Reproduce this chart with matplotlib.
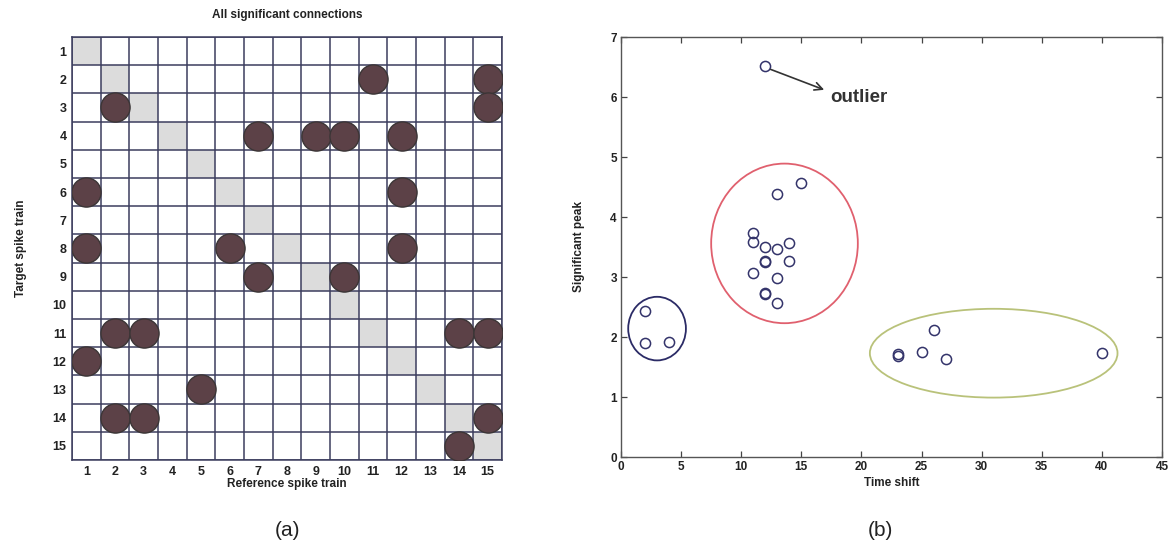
import matplotlib
matplotlib.use("Agg")
import matplotlib.pyplot as plt
from matplotlib.patches import Ellipse
import numpy as np

plt.rcParams['font.family'] = ['Liberation Sans', 'DejaVu Sans']

# ---------------- data: panel (a) ----------------
n_trains = 15
train_labels = [str(i) for i in range(1, 16)]
# significant connections: (target row, reference column)
conn_target = [2, 2, 3, 3, 4, 4, 4, 4, 6, 6, 8, 8, 8, 9, 9,
               11, 11, 11, 11, 12, 13, 14, 14, 14, 15]
conn_reference = [11, 15, 2, 15, 7, 9, 10, 12, 1, 12, 1, 6, 12, 7, 10,
                  2, 3, 14, 15, 1, 5, 2, 3, 15, 14]

# ---------------- data: panel (b) ----------------
time_shift = [12, 15, 13, 11, 11, 12, 13, 14, 12, 12, 14, 11, 13, 12, 12, 13,
              2, 2, 4,
              23, 23, 25, 26, 27, 40]
sig_peak = [6.52, 4.57, 4.38, 3.74, 3.58, 3.50, 3.46, 3.57, 3.27, 3.25, 3.27, 3.06, 2.98, 2.73, 2.71, 2.57,
            2.44, 1.90, 1.92,
            1.71, 1.69, 1.75, 2.12, 1.64, 1.73]
# clusters: centre x, centre y, width, height, colour
cluster_cx = [3.0, 13.6, 31.0]
cluster_cy = [2.14, 3.56, 1.73]
cluster_w = [4.8, 12.2, 20.6]
cluster_h = [1.06, 2.66, 1.48]
cluster_colors = ['#2b2b66', '#e0606e', '#b9c27a']
xticks_b = [0, 5, 10, 15, 20, 25, 30, 35, 40, 45]
yticks_b = [0, 1, 2, 3, 4, 5, 6, 7]
outlier_label = 'outlier'

W, H = 1174, 557
fig = plt.figure(figsize=(W / 100, H / 100), dpi=100)

def ax_rect(x0, y0, x1, y1):
    return [x0 / W, 1 - y1 / H, (x1 - x0) / W, (y1 - y0) / H]

# ---------------- panel (a) ----------------
ax1 = fig.add_axes(ax_rect(72, 37, 502, 460))
diag = np.arange(1, n_trains + 1)
for d in diag:
    ax1.add_patch(plt.Rectangle((d - 0.5, d - 0.5), 1, 1, facecolor='#dcdcdc',
                                edgecolor='none', zorder=0))
ax1.plot(conn_reference, conn_target, linestyle='none', marker='o',
         markersize=21, markerfacecolor='#5c4147', markeredgecolor='#3b3536',
         markeredgewidth=1.0, zorder=3)
ax1.set_xlim(0.5, n_trains + 0.5)
ax1.set_ylim(n_trains + 0.5, 0.5)
ax1.set_xticks(diag)
ax1.set_xticklabels(train_labels)
ax1.set_yticks(diag)
ax1.set_yticklabels(train_labels)
ax1.set_xticks(np.arange(0.5, n_trains + 1, 1), minor=True)
ax1.set_yticks(np.arange(0.5, n_trains + 1, 1), minor=True)
ax1.grid(which='minor', color='#3c3d5e', linewidth=1.1, zorder=1)
ax1.set_axisbelow(False)
ax1.tick_params(which='both', length=0)
ax1.tick_params(which='major', labelsize=9, pad=4)
for lab in ax1.get_xticklabels() + ax1.get_yticklabels():
    lab.set_fontweight('bold')
    lab.set_color('#222222')
for s in ax1.spines.values():
    s.set_color('#3c3d5e')
    s.set_linewidth(1.1)
ax1.set_xlabel('Reference spike train', fontsize=8.5, fontweight='bold', labelpad=0, color='#222222')
ax1.set_ylabel('Target spike train', fontsize=8.5, fontweight='bold', labelpad=18, color='#222222')
ax1.set_title('All significant connections', fontsize=8.5, fontweight='bold', pad=14, color='#222222')

# ---------------- panel (b) ----------------
ax2 = fig.add_axes(ax_rect(621, 37, 1162, 457))
ax2.plot(time_shift, sig_peak, linestyle='none', marker='o', markersize=7.3,
         markerfacecolor='none', markeredgecolor='#33336a', markeredgewidth=1.1, zorder=3)
for cx, cy, w, h, c in zip(cluster_cx, cluster_cy, cluster_w, cluster_h, cluster_colors):
    ax2.add_patch(Ellipse((cx, cy), w, h, facecolor='none', edgecolor=c, linewidth=1.3, zorder=2))
ax2.annotate('', xy=(16.9, 6.12), xytext=(12.45, 6.46),
             arrowprops=dict(arrowstyle='->', color='#333333', lw=1.2, shrinkA=0, shrinkB=0,
                             mutation_scale=14))
ax2.text(17.4, 6.0, outlier_label, fontsize=13.5, fontweight='bold', color='#333333',
         va='center', ha='left')
ax2.set_xlim(0, 45)
ax2.set_ylim(0, 7)
ax2.set_xticks(xticks_b)
ax2.set_yticks(yticks_b)
ax2.tick_params(direction='in', top=True, right=True, length=4, width=0.9,
                labelsize=8.5, color='#444444', pad=3)
for lab in ax2.get_xticklabels() + ax2.get_yticklabels():
    lab.set_fontweight('bold')
    lab.set_color('#222222')
for s in ax2.spines.values():
    s.set_color('#555555')
    s.set_linewidth(1.0)
ax2.set_xlabel('Time shift', fontsize=8.5, fontweight='bold', labelpad=3, color='#222222')
ax2.set_ylabel('Significant peak', fontsize=8.5, fontweight='bold', labelpad=18, color='#222222')

fig.text(287 / W, 1 - 530 / H, '(a)', fontsize=15, ha='center', va='center', color='#222222')
fig.text(880 / W, 1 - 530 / H, '(b)', fontsize=15, ha='center', va='center', color='#222222')

fig.savefig('out.png', dpi=100)
